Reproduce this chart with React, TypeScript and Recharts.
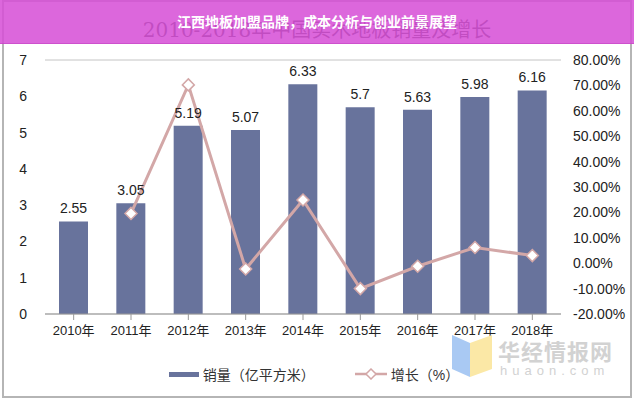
import React from 'react'
import { ComposedChart, Bar, Line, XAxis, YAxis, CartesianGrid, LabelList, Legend } from 'recharts'

const years = ['2010年', '2011年', '2012年', '2013年', '2014年', '2015年', '2016年', '2017年', '2018年']
const sales = [2.55, 3.05, 5.19, 5.07, 6.33, 5.7, 5.63, 5.98, 6.16]
const growth: (number | null)[] = [null, 19.6, 70.2, -2.3, 24.9, -10.0, -1.2, 6.2, 3.0]
const leftTicks = [0, 1, 2, 3, 4, 5, 6, 7]
const rightTicks = [-20, -10, 0, 10, 20, 30, 40, 50, 60, 70, 80]

const data = years.map((y, i) => ({ year: y, sales: sales[i], growth: growth[i] }))

const BAR = '#68739c'
const LINE = '#d3a7a7'
const FONT = '"Liberation Sans", Arial, "Noto Sans CJK SC", sans-serif'

const Diamond = (props: any) => {
  const { cx, cy } = props
  if (cx == null || cy == null) return null
  const r = 6
  return (
    <polygon
      points={`${cx},${cy - r} ${cx + r},${cy} ${cx},${cy + r} ${cx - r},${cy}`}
      fill="#fff"
      stroke={LINE}
      strokeWidth={1.5}
    />
  )
}

const LegendBox = () => (
  <div style={{ display: 'flex', justifyContent: 'center', alignItems: 'center', fontFamily: FONT, fontSize: 14, color: '#333', gap: 40 }}>
    <div style={{ display: 'flex', alignItems: 'center' }}>
      <span style={{ display: 'inline-block', width: 30, height: 5, background: BAR, marginRight: 4 }} />
      销量（亿平方米）
    </div>
    <div style={{ display: 'flex', alignItems: 'center' }}>
      <svg width={32} height={12} style={{ marginRight: 4 }}>
        <line x1={0} y1={6} x2={32} y2={6} stroke={LINE} strokeWidth={2.5} />
        <polygon points="16,1 21,6 16,11 11,6" fill="#fff" stroke={LINE} strokeWidth={1.5} />
      </svg>
      增长（%）
    </div>
  </div>
)

export default function App() {
  return (
    <div style={{ position: 'fixed', left: 0, top: 0, width: 634, height: 400, background: '#fff', overflow: 'hidden' }}>
      <div style={{ position: 'absolute', left: 2, top: 0, width: 626, height: 394, border: '2px solid #b5b5b5' }} />
      <div style={{ position: 'absolute', left: 0, top: 14, width: 634, textAlign: 'center', fontFamily: '"DejaVu Serif", "Noto Sans CJK SC", serif', fontSize: 20, color: '#444' }}>
        2010-2018年中国实木地板销量及增长
      </div>
      <ComposedChart
        width={634}
        height={400}
        data={data}
        margin={{ top: 60, right: 6, bottom: 36, left: 0 }}
        barCategoryGap="25%"
      >
        <CartesianGrid vertical={false} stroke="#c4c4c4" />
        <XAxis
          dataKey="year"
          tick={{ fill: '#222', fontSize: 13, fontFamily: FONT }}
          tickLine={{ stroke: '#999' }}
          axisLine={{ stroke: '#999' }}
          interval={0}
          tickMargin={6}
          height={30}
        />
        <YAxis
          yAxisId="left"
          domain={[0, 7]}
          ticks={leftTicks}
          tick={{ fill: '#222', fontSize: 14, fontFamily: FONT }}
          axisLine={false}
          tickLine={false}
          tickMargin={12}
          width={45}
        />
        <YAxis
          yAxisId="right"
          orientation="right"
          domain={[-20, 80]}
          ticks={rightTicks}
          tickFormatter={(v: number) => `${v.toFixed(2)}%`}
          tick={{ fill: '#222', fontSize: 14, fontFamily: FONT, textAnchor: 'start' }}
          axisLine={false}
          tickLine={false}
          tickMargin={6}
          width={67}
        />
        <Bar yAxisId="left" dataKey="sales" fill={BAR} barSize={29} isAnimationActive={false}>
          <LabelList dataKey="sales" position="top" offset={8} style={{ fill: '#222', fontSize: 14, fontFamily: FONT }} />
        </Bar>
        <Line
          yAxisId="right"
          dataKey="growth"
          stroke={LINE}
          strokeWidth={3}
          dot={<Diamond />}
          activeDot={false}
          connectNulls={false}
          isAnimationActive={false}
        />
        <Legend verticalAlign="bottom" content={<LegendBox />} wrapperStyle={{ bottom: 16 }} />
      </ComposedChart>
      <div style={{ position: 'absolute', left: 0, top: 0, width: 634, height: 43, background: 'rgba(214, 78, 214, 0.86)', borderBottom: '1px solid rgba(190,60,190,0.5)' }} />
      <div style={{ position: 'absolute', left: 0, top: 11, width: 634, textAlign: 'center', fontFamily: '"Noto Sans CJK SC", sans-serif', fontWeight: 700, fontSize: 14, color: '#fff' }}>
        江西地板加盟品牌，成本分析与创业前景展望
      </div>
      <svg style={{ position: 'absolute', left: 452, top: 333 }} width={44} height={46}>
        <polygon points="0,2 18,10 18,44 0,36" fill="#a9c9f3" />
        <polygon points="18,10 40,2 40,36 18,44" fill="#fbe8a6" />
      </svg>
      <div style={{ position: 'absolute', left: 498, top: 334, fontFamily: '"Noto Sans CJK SC", sans-serif', fontWeight: 700, fontSize: 22, color: '#d2d2d2', letterSpacing: 1 }}>
        华经情报网
      </div>
      <div style={{ position: 'absolute', left: 500, top: 363, fontFamily: FONT, fontSize: 13, color: '#d2d2d2', letterSpacing: 5 }}>
        huaon.com
      </div>
    </div>
  )
}
